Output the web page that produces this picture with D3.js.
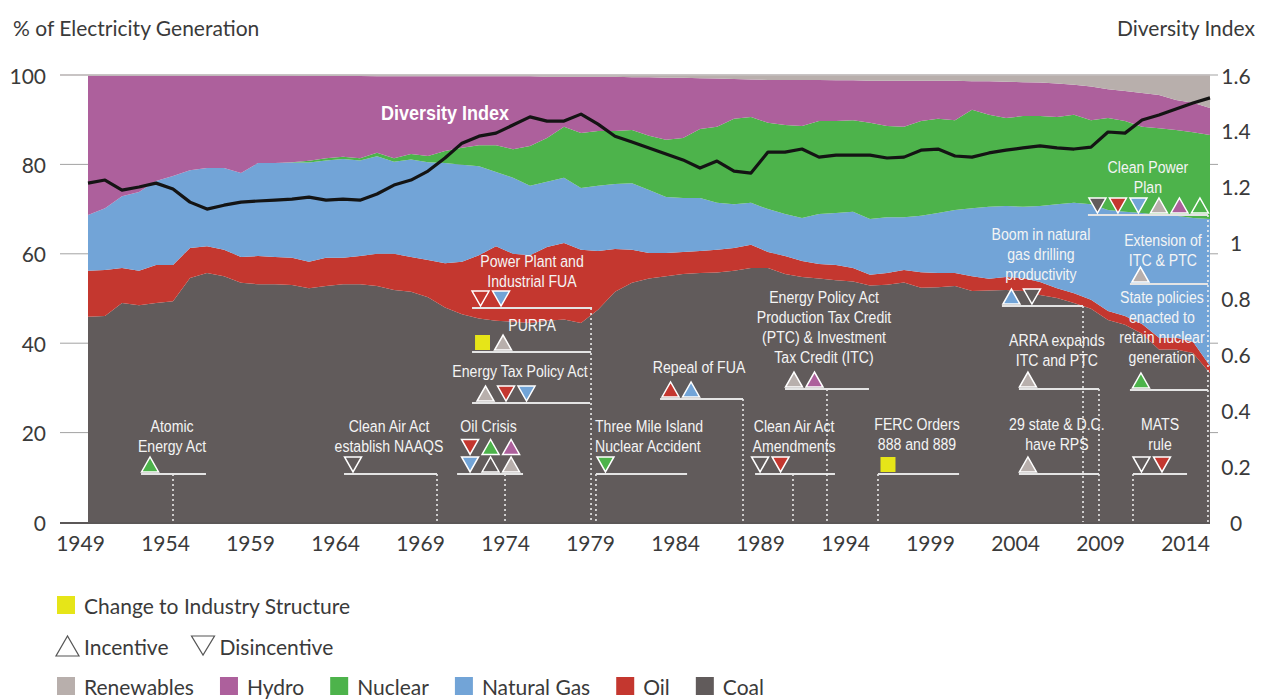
<!DOCTYPE html>
<html>
<head>
<meta charset="utf-8">
<script src="https://cdn.jsdelivr.net/npm/d3@7"></script>
<style>
  body { margin: 0; background: #fff; }
  svg { display: block; font-family: Lato, "Noto Sans", sans-serif; }
  .note text { font-family: "Liberation Sans", Arial, sans-serif; }
</style>
</head>
<body>
<svg id="chart" width="1262" height="700"></svg>
<script>
// ---- Share of U.S. electricity generation by source (%), 1949-2015 ----
const years = d3.range(1949, 2016);

const coal = [45.9,46.1,49.0,48.5,49.0,49.4,54.6,55.7,55.0,53.5,
  53.2,53.2,53.0,52.3,52.8,53.2,53.2,52.8,51.9,51.5,
  50.3,48.0,46.5,45.5,45.0,44.8,44.5,45.0,45.3,44.5,
  47.5,51.5,53.5,54.5,55.0,55.5,55.7,55.8,56.2,56.8,
  56.8,55.5,54.8,54.5,54.1,53.8,52.9,53.1,53.6,52.4,
  52.5,52.8,51.7,51.8,51.9,51.7,50.8,50.1,49.0,47.7,
  45.2,44.1,42.1,38.6,38.6,37.8,33.3];

const oil = [10.3,10.3,7.8,7.7,8.5,8.1,6.7,6.0,5.9,5.8,
  6.3,6.1,6.1,5.9,6.3,5.9,6.3,7.2,8.1,7.8,
  8.3,9.9,11.7,14.2,16.7,15.2,15.2,16.5,17.1,16.4,
  13.1,9.6,7.4,5.7,5.2,4.9,4.9,5.1,5.1,5.2,
  3.6,4.0,3.6,3.2,3.4,3.0,2.4,2.6,2.8,3.5,
  3.2,2.9,3.3,2.6,2.9,2.9,2.9,2.2,2.2,2.0,
  2.0,2.0,2.2,2.6,2.6,2.5,1.6];

const gas = [12.5,13.8,16.1,17.6,18.8,19.9,17.4,17.5,18.3,18.8,
  20.8,21.0,21.3,22.2,21.8,22.1,21.4,21.8,20.6,21.8,
  21.9,22.4,21.7,19.9,16.6,17.0,15.5,14.6,14.6,13.8,
  14.6,14.5,14.9,14.1,12.5,12.1,11.9,10.5,9.8,9.4,
  9.6,9.4,9.6,11.2,11.6,12.6,12.5,12.5,11.8,12.6,
  13.4,14.1,15.2,16.1,15.9,15.9,17.0,18.8,20.2,21.4,
  22.6,23.3,24.8,27.5,27.3,27.7,32.9];

const nuclear = [0,0,0,0,0,0,0,0,0,0,
  0,0,0.1,0.4,0.5,0.5,0.5,0.8,0.8,1.2,
  1.4,2.7,3.8,4.7,6.0,6.4,8.9,9.8,11.4,12.3,
  12.3,11.9,11.9,12.1,12.8,13.4,15.4,17.0,19.1,19.2,
  19.3,19.9,20.6,20.8,20.6,20.5,21.5,20.4,20.2,21.2,
  21.1,20.1,22.0,20.6,19.7,20.3,20.1,19.5,19.7,18.8,
  20.6,20.3,19.3,19.4,19.2,19.2,18.8];

const hydro = [31.2,29.7,27.0,26.1,23.6,22.5,21.2,20.7,20.7,21.8,
  19.6,19.6,19.4,19.0,18.4,18.1,18.4,17.1,18.3,17.4,
  17.8,16.7,16.0,15.4,15.4,16.3,15.6,13.7,11.2,12.6,
  12.1,12.1,11.8,13.1,13.9,13.5,11.4,10.8,8.9,8.4,
  9.6,10.1,10.3,9.2,9.1,8.9,9.4,10.1,10.3,9.0,
  8.5,8.8,6.4,7.5,8.1,7.6,7.5,7.5,6.7,7.5,
  6.4,6.7,7.6,7.4,6.7,6.6,6.0];

const renewables = [0.1,0.1,0.1,0.1,0.1,0.1,0.1,0.1,0.1,0.1,
  0.1,0.1,0.1,0.2,0.2,0.2,0.2,0.3,0.3,0.3,
  0.3,0.3,0.3,0.3,0.3,0.3,0.3,0.4,0.4,0.4,
  0.4,0.4,0.5,0.5,0.6,0.6,0.7,0.8,0.9,1.0,
  1.1,1.1,1.1,1.1,1.2,1.2,1.3,1.3,1.3,1.3,
  1.3,1.3,1.4,1.4,1.5,1.6,1.7,1.9,2.2,2.6,
  3.2,3.6,4.0,4.5,5.6,6.2,7.4];

// Fuel diversity index (right axis)
const diversityIndex = [1.213,1.224,1.188,1.199,1.213,1.192,1.145,1.120,1.134,1.145,
  1.149,1.152,1.156,1.163,1.152,1.156,1.152,1.174,1.206,1.224,
  1.256,1.303,1.356,1.381,1.392,1.421,1.450,1.435,1.435,1.460,
  1.424,1.381,1.360,1.339,1.317,1.296,1.267,1.292,1.256,1.249,
  1.324,1.324,1.335,1.306,1.313,1.313,1.313,1.303,1.306,1.331,
  1.335,1.310,1.306,1.321,1.331,1.339,1.346,1.339,1.335,1.342,
  1.396,1.392,1.439,1.457,1.478,1.500,1.518];

const fuelKeys = ["coal", "oil", "gas", "nuclear", "hydro", "renewables"];
const fuelNames = { coal: "Coal", oil: "Oil", gas: "Natural Gas", nuclear: "Nuclear", hydro: "Hydro", renewables: "Renewables" };
const fuelColor = { coal: "#615b5b", oil: "#c4372f", gas: "#72a4d7", nuclear: "#4db34b", hydro: "#ad609c", renewables: "#b8afac" };
const structureColor = "#e6e518";

const leftTicks = [0, 20, 40, 60, 80, 100];
const rightTicks = [0, 0.2, 0.4, 0.6, 0.8, 1, 1.2, 1.4, 1.6];
const yearTicks = [1949, 1954, 1959, 1964, 1969, 1974, 1979, 1984, 1989, 1994, 1999, 2004, 2009, 2014];

// Policy milestones: text lines and the fuels they push up (incentive) or down (disincentive).
// marks: rows of markers, first row sits on the underline.
const policyEvents = [
  { id: "aea",   lines: ["Atomic", "Energy Act"], marks: [[["up","nuclear"]]] },
  { id: "caa",   lines: ["Clean Air Act", "establish NAAQS"], marks: [[["down","coal"]]] },
  { id: "oil",   lines: ["Oil Crisis"], marks: [[["down","gas"],["up","coal"],["up","renewables"]], [["down","oil"],["up","nuclear"],["up","hydro"]]] },
  { id: "etpa",  lines: ["Energy Tax Policy Act"], marks: [[["up","renewables"],["down","oil"],["down","gas"]]] },
  { id: "purpa", lines: ["PURPA"], marks: [[["square","structure"],["up","renewables"]]] },
  { id: "fua",   lines: ["Power Plant and", "Industrial FUA"], marks: [[["down","oil"],["down","gas"]]] },
  { id: "tmi",   lines: ["Three Mile Island", "Nuclear Accident"], marks: [[["down","nuclear"]]] },
  { id: "rfua",  lines: ["Repeal of FUA"], marks: [[["up","oil"],["up","gas"]]] },
  { id: "caaa",  lines: ["Clean Air Act", "Amendments"], marks: [[["down","coal"],["down","oil"]]] },
  { id: "epact", lines: ["Energy Policy Act", "Production Tax Credit", "(PTC) & Investment", "Tax Credit (ITC)"], marks: [[["up","renewables"],["up","hydro"]]] },
  { id: "ferc",  lines: ["FERC Orders", "888 and 889"], marks: [[["square","structure"]]] },
  { id: "rps",   lines: ["29 state & D.C.", "have RPS"], marks: [[["up","renewables"]]] },
  { id: "arra",  lines: ["ARRA expands", "ITC and PTC"], marks: [[["up","renewables"]]] },
  { id: "boom",  lines: ["Boom in natural", "gas drilling", "productivity"], marks: [[["up","gas"],["down","coal"]]] },
  { id: "cpp",   lines: ["Clean Power", "Plan"], marks: [[["down","coal"],["down","oil"],["down","gas"],["up","renewables"],["up","hydro"],["up","nuclear"]]] },
  { id: "ext",   lines: ["Extension of", "ITC & PTC"], marks: [[["up","renewables"]]] },
  { id: "state", lines: ["State policies", "enacted to", "retain nuclear", "generation"], marks: [[["up","nuclear"]]] },
  { id: "mats",  lines: ["MATS", "rule"], marks: [[["down","coal"],["down","oil"]]] }
];

// Placement of each milestone: underline span (years), underline height (% scale),
// text / marker offsets in px from the underline start, optional drop line (year).
const noteLayout = {
  aea:   { x0: 1952.12, x1: 1955.94, level: 10.74, tx: 31,   base: -22, mx: 9,    drop: 1954.0 },
  caa:   { x0: 1964.06, x1: 1969.53, level: 10.74, tx: 45,   base: -22, mx: 9,    drop: 1969.53 },
  oil:   { x0: 1970.71, x1: 1974.59, level: 10.74, tx: 31.5, base: -42, mx: 13,   drop: 1973.53 },
  etpa:  { x0: 1971.59, x1: 1978.53, level: 26.62, tx: 48,   base: -26, mx: 13.5 },
  purpa: { x0: 1971.59, x1: 1978.59, level: 38.03, tx: 60,   base: -21, mx: 10.5 },
  fua:   { x0: 1971.59, x1: 1978.65, level: 47.87, tx: 60,   base: -21, mx: 8.5,  drop: 1978.59 },
  tmi:   { x0: 1978.88, x1: 1984.24, level: 10.74, tx: -1,   base: -22, mx: 9.5,  drop: 1978.88, anchor: "start" },
  rfua:  { x0: 1982.65, x1: 1987.53, level: 27.52, tx: 39,   base: -26, mx: 10.5, drop: 1987.53 },
  caaa:  { x0: 1988.24, x1: 1992.94, level: 10.74, tx: 39,   base: -22, mx: 5,    drop: 1990.47 },
  epact: { x0: 1990.00, x1: 1994.94, level: 29.75, tx: 39,   base: -26, mx: 9,    drop: 1992.47 },
  ferc:  { x0: 1995.47, x1: 2000.24, level: 10.74, tx: 39,   base: -24, mx: 10,   drop: 1995.47 },
  rps:   { x0: 2003.76, x1: 2008.47, level: 10.74, tx: 38,   base: -24, mx: 9 },
  arra:  { x0: 2003.76, x1: 2008.47, level: 29.75, tx: 38,   base: -23, mx: 9,    drop: 2008.47 },
  boom:  { x0: 2002.76, x1: 2007.53, level: 48.32, tx: 39,   base: -26, mx: 9.5,  drop: 2007.53 },
  cpp:   { x0: 2007.82, x1: 2014.88, level: 68.68, tx: 60,   base: -22, mx: 9.5,  drop: 2014.88 },
  ext:   { x0: 2010.29, x1: 2014.88, level: 53.24, tx: 33,   base: -18, mx: 10.5 },
  state: { x0: 2010.29, x1: 2014.88, level: 29.53, tx: 32,   base: -27, mx: 11 },
  mats:  { x0: 2010.47, x1: 2013.65, level: 10.74, tx: 27,   base: -24, mx: 8.5,  drop: 2010.47 }
};

// ---- scales ----
const x = d3.scaleLinear().domain([1949, 2015]).range([88, 1210]);
const y = d3.scaleLinear().domain([0, 100]).range([522, 75]);
const yR = d3.scaleLinear().domain([0, 1.6]).range([522, 75]);

const svg = d3.select("#chart");
const textColor = "#3a3a3a";
const narrow = 0.83;   // horizontal squeeze for the condensed annotation lettering

// grid lines behind the stacked areas
svg.append("g").selectAll("line").data(leftTicks.filter(v => v > 0)).join("line")
  .attr("x1", 60).attr("x2", 1218)
  .attr("y1", d => y(d)).attr("y2", d => y(d))
  .attr("stroke", "#a3a3a3").attr("stroke-width", 1);

// stacked generation shares
const rows = years.map((yr, i) => ({
  year: yr, coal: coal[i], oil: oil[i], gas: gas[i],
  nuclear: nuclear[i], hydro: hydro[i], renewables: renewables[i]
}));
const series = d3.stack().keys(fuelKeys)(rows);
const area = d3.area()
  .x(d => x(d.data.year))
  .y0(d => y(d[0]))
  .y1(d => y(Math.min(100, d[1])));

svg.append("g").selectAll("path").data(series).join("path")
  .attr("fill", d => fuelColor[d.key])
  .attr("d", area);

// top edge at 100 %
svg.append("line")
  .attr("x1", 60).attr("x2", x(2015))
  .attr("y1", y(100)).attr("y2", y(100))
  .attr("stroke", "#c4bfbf").attr("stroke-width", 1.5);

// diversity index line
const divLine = d3.line()
  .x((d, i) => x(years[i]))
  .y(d => yR(d));
svg.append("path")
  .datum(diversityIndex)
  .attr("d", divLine)
  .attr("fill", "none")
  .attr("stroke", "#141414")
  .attr("stroke-width", 3.2)
  .attr("stroke-linejoin", "round");

const notes = svg.append("g").attr("class", "note");

function narrowText(parent, px, py, str, size, anchor, weight, sx) {
  return parent.append("text")
    .attr("transform", `translate(${px},${py}) scale(${sx},1)`)
    .attr("text-anchor", anchor)
    .attr("font-size", size)
    .attr("font-weight", weight)
    .attr("fill", "#f4f4f4")
    .text(str);
}

narrowText(notes, x(1966.24), y(89.93), "Diversity Index", 20, "start", "bold", 0.9)
  .attr("fill", "#ffffff");

// ---- policy milestones ----
function markerPath(kind, cx, cy) {
  const w = 8.5, h = 7.5;
  if (kind === "up") return `M${cx - w},${cy + h}L${cx + w},${cy + h}L${cx},${cy - h}Z`;
  if (kind === "down") return `M${cx - w},${cy - h}L${cx + w},${cy - h}L${cx},${cy + h}Z`;
  return `M${cx - 7.5},${cy - 7.5}h15v15h-15Z`;
}

policyEvents.forEach(ev => {
  const L = noteLayout[ev.id];
  const ul = y(L.level);
  const xs = x(L.x0);

  if (L.drop !== undefined) {
    notes.append("line")
      .attr("x1", x(L.drop)).attr("x2", x(L.drop))
      .attr("y1", ul).attr("y2", y(0))
      .attr("stroke", "#f2f2f2").attr("stroke-width", 1.5)
      .attr("stroke-dasharray", "2,3");
  }

  notes.append("line")
    .attr("x1", xs).attr("x2", x(L.x1))
    .attr("y1", ul).attr("y2", ul)
    .attr("stroke", "#e4e4e4").attr("stroke-width", 2);

  ev.marks.forEach((row, r) => {
    const cy = ul - 9.5 - r * 17.5;
    row.forEach(([kind, fuel], k) => {
      const cx = xs + L.mx + k * 20.5;
      notes.append("path")
        .attr("d", markerPath(kind, cx, cy))
        .attr("fill", fuel === "structure" ? structureColor : fuelColor[fuel])
        .attr("stroke", kind === "square" ? "none" : "#ffffff")
        .attr("stroke-width", 1.5)
        .attr("stroke-linejoin", "miter");
    });
  });

  const n = ev.lines.length;
  ev.lines.forEach((line, j) => {
    narrowText(notes, xs + L.tx, ul + L.base - (n - 1 - j) * 20, line, 17, L.anchor || "middle", "normal", narrow);
  });
});

// baseline
svg.append("line")
  .attr("x1", 60).attr("x2", x(2015))
  .attr("y1", y(0) + 1).attr("y2", y(0) + 1)
  .attr("stroke", "#5b5757").attr("stroke-width", 2);

// ---- axes ----
const axisFont = 21;
svg.append("g").selectAll("text").data(leftTicks).join("text")
  .attr("x", 46).attr("y", d => y(d))
  .attr("text-anchor", "end").attr("dominant-baseline", "central")
  .attr("font-size", axisFont).attr("fill", textColor)
  .text(d => d);

svg.append("g").selectAll("text").data(rightTicks).join("text")
  .attr("x", 1236).attr("y", d => yR(d))
  .attr("text-anchor", "middle").attr("dominant-baseline", "central")
  .attr("font-size", axisFont).attr("fill", textColor)
  .text(d => d3.format("~g")(d));

const xAxis = d3.axisBottom(x).tickValues(yearTicks).tickFormat(d3.format("d")).tickSize(0).tickPadding(14);
const gx = svg.append("g").attr("transform", `translate(0,${y(0)})`).call(xAxis);
gx.select(".domain").remove();
gx.selectAll("text")
  .attr("font-family", "Lato, 'Noto Sans', sans-serif")
  .attr("font-size", axisFont).attr("fill", textColor)
  .attr("dx", -8);

svg.append("text").attr("x", 13).attr("y", 27)
  .attr("dominant-baseline", "central").attr("font-size", 21).attr("fill", textColor)
  .text("% of Electricity Generation");
svg.append("text").attr("x", 1255).attr("y", 27)
  .attr("text-anchor", "end").attr("dominant-baseline", "central")
  .attr("font-size", 21).attr("fill", textColor)
  .text("Diversity Index");

// ---- legend ----
const legend = svg.append("g").attr("font-size", 21).attr("fill", textColor);

legend.append("rect").attr("x", 57).attr("y", 596).attr("width", 18).attr("height", 18).attr("fill", structureColor);
legend.append("text").attr("x", 84).attr("y", 605).attr("dominant-baseline", "central").text("Change to Industry Structure");

legend.append("path").attr("d", "M56,656L79,656L67.5,636Z").attr("fill", "#fff").attr("stroke", "#555").attr("stroke-width", 1.2);
const incText = legend.append("text").attr("x", 84).attr("y", 646).attr("dominant-baseline", "central").text("Incentive");
const dx0 = 84 + incText.node().getComputedTextLength() + 23;
legend.append("path").attr("d", `M${dx0},636L${dx0 + 23},636L${dx0 + 11.5},655Z`).attr("fill", "#fff").attr("stroke", "#555").attr("stroke-width", 1.2);
legend.append("text").attr("x", dx0 + 28).attr("y", 646).attr("dominant-baseline", "central").text("Disincentive");

const legendOrder = ["renewables", "hydro", "nuclear", "gas", "oil", "coal"];
let lx = 57;
legendOrder.forEach(k => {
  legend.append("rect").attr("x", lx).attr("y", 677).attr("width", 18).attr("height", 18).attr("fill", fuelColor[k]);
  const t = legend.append("text").attr("x", lx + 27).attr("y", 686).attr("dominant-baseline", "central").text(fuelNames[k]);
  lx += 27 + t.node().getComputedTextLength() + 26;
});
</script>
</body>
</html>
